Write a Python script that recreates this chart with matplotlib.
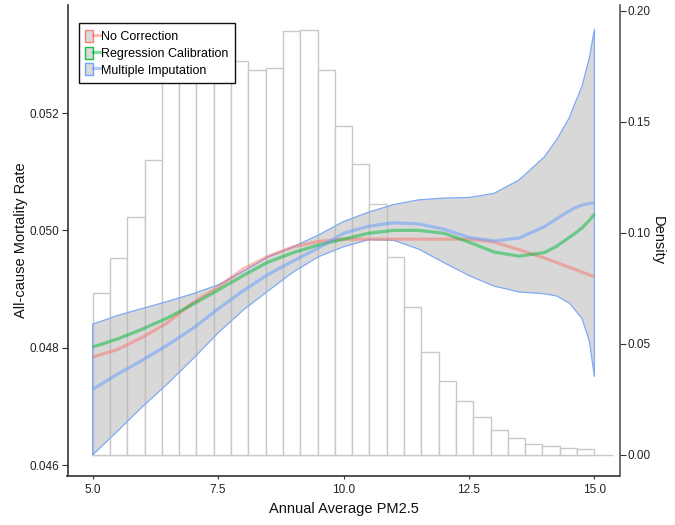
import numpy as np
import matplotlib
matplotlib.use("Agg")
import matplotlib.pyplot as plt
from matplotlib.patches import Patch
from matplotlib.lines import Line2D
from matplotlib.legend_handler import HandlerTuple

plt.rcParams['font.family'] = ['Liberation Sans', 'DejaVu Sans']

# ---- histogram (density, right axis) ----
hist_start = 5.0
hist_end = 15.0
hist_density = [0.0728, 0.0886, 0.1071, 0.1329, 0.172, 0.178, 0.182, 0.180,
                0.1774, 0.1734, 0.1743, 0.1911, 0.1913, 0.1735, 0.1484, 0.1310,
                0.1132, 0.0893, 0.0668, 0.0466, 0.0334, 0.0241, 0.0171, 0.0113,
                0.0078, 0.0051, 0.0041, 0.0033, 0.0026]

# ---- fitted curves (left axis) ----
pm25 = [5.0, 5.5, 6.0, 6.5, 7.0, 7.5, 8.0, 8.5, 9.0, 9.5, 10.0, 10.5, 11.0,
        11.5, 12.0, 12.5, 13.0, 13.5, 14.0, 14.25, 14.5, 14.6, 14.75, 14.9, 15.0]
no_correction = [0.04784, 0.04797, 0.04818, 0.04843, 0.04877, 0.04903, 0.04934,
                 0.04956, 0.04972, 0.04981, 0.04985, 0.04985, 0.04985, 0.04985,
                 0.04985, 0.04985, 0.04980, 0.04967, 0.04953, 0.04945, 0.04937,
                 0.04934, 0.04929, 0.04924, 0.04921]
regression_calibration = [0.04801, 0.04815, 0.04832, 0.04851, 0.04874, 0.04898,
                          0.04923, 0.04946, 0.04962, 0.04975, 0.04985, 0.04995,
                          0.05000, 0.05000, 0.04995, 0.04980, 0.04963, 0.04956,
                          0.04962, 0.04973, 0.04988, 0.04994, 0.05004, 0.05017,
                          0.05028]
multiple_imputation = [0.04729, 0.04755, 0.04779, 0.04805, 0.04833, 0.04866,
                       0.04897, 0.04925, 0.04948, 0.04970, 0.04995, 0.05007,
                       0.05013, 0.05011, 0.05002, 0.04988, 0.04982, 0.04987,
                       0.05006, 0.05020, 0.05033, 0.05038, 0.05043, 0.05046,
                       0.05047]
mi_upper = [0.04840, 0.04855, 0.04867, 0.04879, 0.04892, 0.04907, 0.04930,
            0.04955, 0.04972, 0.04992, 0.05015, 0.05031, 0.05044, 0.05052,
            0.05055, 0.05056, 0.05063, 0.05086, 0.05125, 0.05155, 0.05192,
            0.05214, 0.05245, 0.05294, 0.05343]
mi_lower = [0.04617, 0.04658, 0.04700, 0.04739, 0.04781, 0.04825, 0.04864,
            0.04897, 0.04929, 0.04955, 0.04972, 0.04984, 0.04983, 0.04968,
            0.04945, 0.04923, 0.04905, 0.04895, 0.04892, 0.04888, 0.04876,
            0.04866, 0.04850, 0.04811, 0.04751]

labels = ["No Correction", "Regression Calibration", "Multiple Imputation"]
colors = ["#F8766D", "#00BA38", "#619CFF"]

fig = plt.figure(figsize=(6.75, 5.25), dpi=100)
ax_h = fig.add_axes([67.5 / 675, 49 / 525, 552 / 675, 471 / 525])
ax_c = ax_h.twinx()

# histogram on the axes underneath
nb = len(hist_density)
edges = np.linspace(hist_start, hist_end, nb + 1)
ax_h.bar(edges[:-1], hist_density, width=np.diff(edges), align='edge',
         facecolor='white', edgecolor='#C8C8C8', linewidth=1.0, zorder=2)
ax_h.axhline(0, xmin=0.0455, xmax=0.987, color='#C8C8C8', linewidth=1.0, zorder=1)

# band + curves on top
ax_c.fill_between(pm25, mi_lower, mi_upper, facecolor='#B8B8B8', alpha=0.55,
                  edgecolor='none', zorder=1)
ax_c.fill_between(pm25, mi_lower, mi_upper, facecolor='none',
                  edgecolor='#7FAAF5', linewidth=0.9, zorder=2)
series = [no_correction, regression_calibration, multiple_imputation]
for s, c in zip(series, colors):
    ax_c.plot(pm25, s, color=c, alpha=0.5, linewidth=2.3, zorder=3,
              solid_capstyle='butt', solid_joinstyle='round')

ax_h.set_xlim(4.5, 15.5)
ax_h.set_ylim(-0.00946, 0.2027)
ax_c.set_ylim(0.045813, 0.053841)

# axes sides
ax_h.yaxis.tick_right()
ax_h.yaxis.set_label_position('right')
ax_c.yaxis.tick_left()
ax_c.yaxis.set_label_position('left')

ax_h.set_xticks([5.0, 7.5, 10.0, 12.5, 15.0])
ax_h.set_xticklabels(["5.0", "7.5", "10.0", "12.5", "15.0"])
ax_h.set_yticks([0.0, 0.05, 0.10, 0.15, 0.20])
ax_h.set_yticklabels(["0.00", "0.05", "0.10", "0.15", "0.20"])
ax_c.set_yticks([0.046, 0.048, 0.050, 0.052])
ax_c.set_yticklabels(["0.046", "0.048", "0.050", "0.052"])

spc = '#333333'
for a in (ax_h, ax_c):
    a.spines['top'].set_visible(False)
    a.spines['bottom'].set_color(spc)
    a.spines['bottom'].set_linewidth(1.2)
ax_h.spines['left'].set_visible(False)
ax_c.spines['right'].set_visible(False)
ax_h.spines['right'].set_color('#555555')
ax_h.spines['right'].set_linewidth(1.2)
ax_c.spines['left'].set_color(spc)
ax_c.spines['left'].set_linewidth(1.2)
ax_c.spines['bottom'].set_visible(False)

ax_h.tick_params(axis='x', length=2, width=0.8, color=spc, labelsize=8.5,
                 labelcolor='#222222', pad=4)
ax_h.tick_params(axis='y', length=4, width=0.8, color=spc, labelsize=8.5,
                 labelcolor='#222222', pad=2)
ax_c.tick_params(axis='y', length=4, width=0.8, color=spc, labelsize=8.5,
                 labelcolor='#222222', pad=2)

ax_h.set_xlabel("Annual Average PM2.5", fontsize=10.5, color='#111111', labelpad=4)
ax_c.set_ylabel("All-cause Mortality Rate", fontsize=10.5, color='#111111', labelpad=1)
ax_h.set_ylabel("Density", fontsize=10.5, color='#111111', rotation=270,
                labelpad=10)

handles = []
for c in colors:
    p = Patch(facecolor='#D6D6D6', edgecolor=c, linewidth=1.0, alpha=0.9)
    l = Line2D([], [], color=c, alpha=0.5, linewidth=2.3)
    handles.append((p, l))
leg = ax_c.legend(handles, labels, loc='upper left', bbox_to_anchor=(0.02, 0.962),
                  borderaxespad=0, fancybox=False, frameon=True, fontsize=9.0,
                  handler_map={tuple: HandlerTuple(ndivide=None, pad=0)},
                  handlelength=1.15, handleheight=1.1, handletextpad=0.1,
                  labelspacing=0.28, borderpad=0.55)
leg.get_frame().set_edgecolor('#111111')
leg.get_frame().set_linewidth(1.0)
leg.get_frame().set_facecolor('white')
leg.get_frame().set_alpha(1.0)
leg.set_zorder(10)

fig.savefig("out.png", dpi=100)
